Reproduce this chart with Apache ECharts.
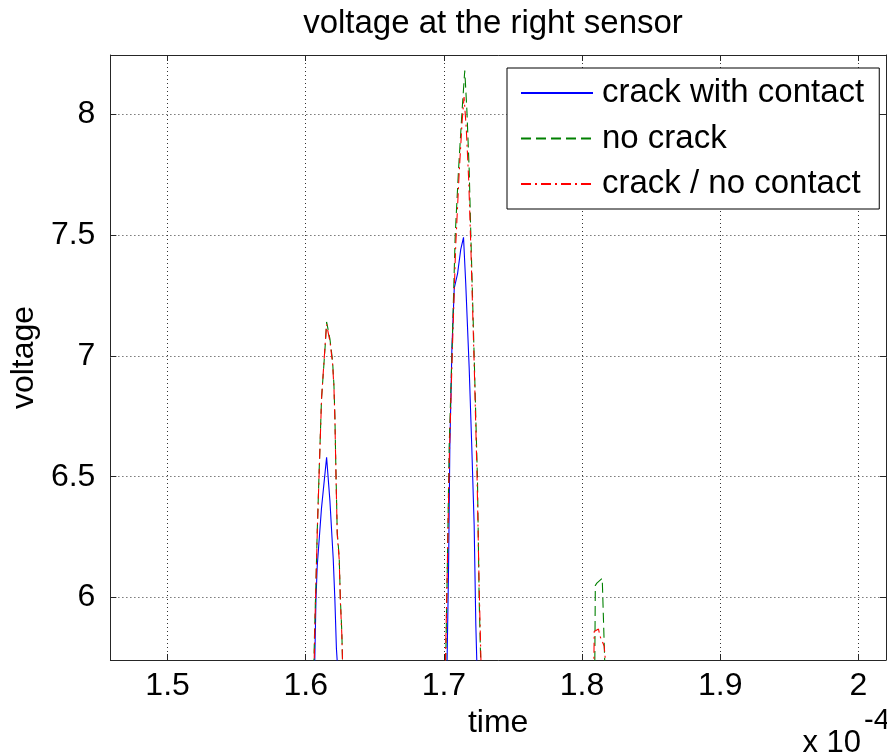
<!DOCTYPE html>
<html>
<head>
<meta charset="utf-8">
<script src="https://cdn.jsdelivr.net/npm/echarts@6/dist/echarts.min.js"></script>
<style>
html, body { margin: 0; padding: 0; background: #fff; }
#chart { width: 887px; height: 756px; }
</style>
</head>
<body>
<div id="chart"></div>
<script>
var FONT = "'Liberation Sans', Arial, Helvetica, sans-serif";

// time axis is in units of 1e-4 s (see "x 10^-4" note)
var xTicks = [1.5, 1.6, 1.7, 1.8, 1.9, 2];
var yTicks = [6, 6.5, 7, 7.5, 8];

var seriesNames = ["crack with contact", "no crack", "crack / no contact"];

// crack with contact (blue, solid)
var contactTime = [1.45, 1.600, 1.6064, 1.6074, 1.6083, 1.6114, 1.6151, 1.6175, 1.6199, 1.6211, 1.6222, 1.6232, 1.630,
    1.698, 1.7022, 1.7034, 1.7043, 1.7058, 1.7075, 1.7099, 1.7122, 1.7142, 1.7158, 1.7183, 1.7202, 1.7219, 1.7231, 1.7240, 1.730,
    2.03];
var contactVolt = [5.2, 5.2, 5.70, 5.99, 6.13, 6.37, 6.58, 6.40, 6.16, 5.99, 5.79, 5.70, 5.2,
    5.2, 5.70, 6.13, 6.62, 7.03, 7.28, 7.34, 7.44, 7.49, 7.30, 6.95, 6.62, 6.30, 5.89, 5.70, 5.2,
    5.2];

// no crack (green, dashed)
var noCrackTime = [1.45, 1.600, 1.6058, 1.6064, 1.6074, 1.6083, 1.6098, 1.6114, 1.6143, 1.6151, 1.6175, 1.6194, 1.6204, 1.6211, 1.6218, 1.6228, 1.6242, 1.6251, 1.6261, 1.6268, 1.632,
    1.697, 1.7012, 1.7025, 1.7038, 1.7058, 1.7082, 1.7106, 1.7130, 1.7151, 1.7166, 1.7183, 1.7195, 1.7219, 1.7243, 1.7255, 1.7268, 1.732,
    1.805, 1.8092, 1.8096, 1.8107, 1.8146, 1.8166, 1.820,
    2.03];
var noCrackVolt = [5.2, 5.2, 5.70, 5.86, 6.06, 6.27, 6.54, 6.82, 7.06, 7.14, 7.07, 6.98, 6.88, 6.75, 6.54, 6.27, 6.17, 5.99, 5.86, 5.70, 5.2,
    5.2, 5.70, 6.13, 6.62, 7.00, 7.50, 7.77, 8.00, 8.18, 8.02, 7.77, 7.50, 7.00, 6.49, 6.00, 5.70, 5.2,
    5.2, 5.70, 6.05, 6.06, 6.08, 5.70, 5.2,
    5.2];

// crack / no contact (red, dash-dot)
var noContactTime = [1.45, 1.600, 1.6060, 1.6066, 1.6075, 1.6084, 1.6099, 1.6115, 1.6143, 1.6151, 1.6175, 1.6194, 1.6204, 1.6211, 1.6218, 1.6228, 1.6242, 1.6251, 1.6261, 1.6268, 1.632,
    1.697, 1.7010, 1.7024, 1.7040, 1.7060, 1.7085, 1.7110, 1.7132, 1.7146, 1.7162, 1.7180, 1.7195, 1.7220, 1.7240, 1.7255, 1.7270, 1.732,
    1.805, 1.8085, 1.8088, 1.8119, 1.8130, 1.8160, 1.8175, 1.821,
    2.03];
var noContactVolt = [5.2, 5.2, 5.70, 5.88, 6.08, 6.28, 6.55, 6.83, 7.07, 7.13, 7.06, 6.97, 6.87, 6.74, 6.53, 6.26, 6.16, 5.98, 5.85, 5.70, 5.2,
    5.2, 5.70, 6.10, 6.60, 7.00, 7.45, 7.75, 7.97, 8.07, 7.94, 7.72, 7.45, 6.95, 6.50, 6.05, 5.70, 5.2,
    5.2, 5.70, 5.86, 5.87, 5.84, 5.80, 5.70, 5.2,
    5.2];

function pairs(xs, ys) {
    var out = [];
    for (var i = 0; i < xs.length; i++) {
        out.push([xs[i], ys[i]]);
    }
    return out;
}

var axisColor = "#262626";
var gridLine = { show: true, lineStyle: { color: "#333", width: 1, type: [1, 3] } };

function lineSeries(name, xs, ys, color, dash) {
    return {
        name: name,
        type: "line",
        data: pairs(xs, ys),
        symbol: "none",
        clip: true,
        animation: false,
        lineStyle: { color: color, width: 1.1, type: dash },
        itemStyle: { color: color }
    };
}

var chart = echarts.init(document.getElementById("chart"), null, { renderer: "canvas" });

var option = {
    backgroundColor: "#fff",
    animation: false,
    grid: { left: 106, right: 1, top: 55, bottom: 96, containLabel: false },
    xAxis: [
        {
            type: "value", position: "bottom", min: 1.4586, max: 2.02,
            name: "time", nameLocation: "middle", nameGap: 44,
            nameTextStyle: { fontSize: 32, fontFamily: FONT, color: "#000" },
            axisLine: { show: true, onZero: false, lineStyle: { color: axisColor } },
            axisTick: { show: true, inside: true, length: 6, customValues: xTicks, lineStyle: { color: axisColor } },
            axisLabel: { show: true, customValues: xTicks, fontSize: 32, fontFamily: FONT, color: "#000", margin: 10 },
            splitLine: gridLine
        },
        {
            type: "value", position: "top", min: 1.4586, max: 2.02,
            axisLine: { show: true, onZero: false, lineStyle: { color: axisColor } },
            axisTick: { show: true, inside: true, length: 6, customValues: xTicks, lineStyle: { color: axisColor } },
            axisLabel: { show: false },
            splitLine: { show: false }
        }
    ],
    yAxis: [
        {
            type: "value", position: "left", min: 5.742, max: 8.244,
            name: "voltage", nameLocation: "middle", nameGap: 68,
            nameTextStyle: { fontSize: 32, fontFamily: FONT, color: "#000" },
            axisLine: { show: true, onZero: false, lineStyle: { color: axisColor } },
            axisTick: { show: true, inside: true, length: 6, customValues: yTicks, lineStyle: { color: axisColor } },
            axisLabel: { show: true, customValues: yTicks, fontSize: 32, fontFamily: FONT, color: "#000", margin: 15 },
            splitLine: gridLine
        },
        {
            type: "value", position: "right", min: 5.742, max: 8.244,
            axisLine: { show: true, onZero: false, lineStyle: { color: axisColor } },
            axisTick: { show: true, inside: true, length: 6, customValues: yTicks, lineStyle: { color: axisColor } },
            axisLabel: { show: false },
            splitLine: { show: false }
        }
    ],
    legend: {
        orient: "vertical",
        left: 507, top: 68,
        padding: [6, 15, 6, 13],
        itemGap: 7.5,
        itemWidth: 72,
        itemHeight: 2,
        backgroundColor: "#fff",
        borderColor: "#000",
        borderWidth: 1,
        borderRadius: 0,
        selectedMode: false,
        itemStyle: { opacity: 0 },
        textStyle: { fontSize: 33, fontFamily: FONT, color: "#000", lineHeight: 38, padding: [0, 0, 0, 4] },
        data: seriesNames
    },
    graphic: [
        { type: "text", x: 493, y: 24, style: { text: "voltage at the right sensor", font: "33px " + FONT, fill: "#000", align: "center", verticalAlign: "middle" } },
        { type: "text", x: 861, y: 759, style: { text: "x 10", font: "31px " + FONT, fill: "#000", align: "right", verticalAlign: "bottom" } },
        { type: "text", x: 864, y: 735, style: { text: "-4", font: "29px " + FONT, fill: "#000", align: "left", verticalAlign: "bottom" } }
    ],
    series: [
        lineSeries(seriesNames[0], contactTime, contactVolt, "#0000ff", "solid"),
        lineSeries(seriesNames[1], noCrackTime, noCrackVolt, "#008000", [10, 5]),
        lineSeries(seriesNames[2], noContactTime, noContactVolt, "#ff0000", [10, 4, 2, 4])
    ]
};

chart.setOption(option);
</script>
</body>
</html>
